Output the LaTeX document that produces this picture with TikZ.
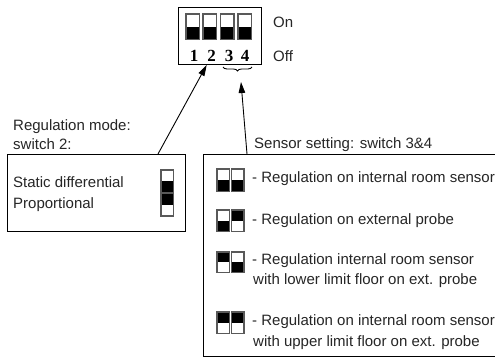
\documentclass[tikz,border=0pt]{standalone}
\usepackage{fontspec}
\setmainfont{Liberation Sans}
\newfontfamily\digitfont{Liberation Serif}
\usetikzlibrary{decorations.pathreplacing,arrows.meta}
\newcommand\swbox[5]{%
  \begin{scope}[shift={(#1,#2)}]
    \fill[swrim] (0,0) rectangle (#3,#4);
    \fill[white] (1.5,1.5) rectangle (#3-1.5,#4-1.5);
    \ifnum#5=0
      \fill[swknob] (1.5,#4/2) rectangle (#3-1.5,#4-1.5);
    \else
      \fill[swknob] (1.5,1.5) rectangle (#3-1.5,#4/2);
    \fi
  \end{scope}}
\begin{document}
\begin{tikzpicture}[x=1pt,y=-1pt,
  lbl/.style={anchor=base west, inner sep=0pt, font=\fontsize{15}{19.5}\selectfont, text=black!85},
  digit/.style={anchor=base, inner sep=0pt, font=\digitfont\bfseries\fontsize{17}{17}\selectfont},
  frame/.style={draw, line width=1.2pt, inner sep=0pt, anchor=north west},
  arr/.style={-{Triangle[length=11pt,width=6.5pt]}, line width=0.9pt},
  swrim/.style={black!65},
  swknob/.style={black},
]
\clip (0,0) rectangle (495,357);
\fill[white] (0,0) rectangle (495,357);

% DIP switch block
\node[frame, minimum width=83.5pt, minimum height=57.5pt] (dip) at (177.5,6.5) {};
\swbox{185}{13.3}{15}{27}{0}
\swbox{202}{13.3}{15}{27}{0}
\swbox{219.5}{13.3}{15}{27}{0}
\swbox{237}{13.3}{15}{27}{0}
\node[digit] (d1) at (194,61) {1};
\node[digit] (d2) at (211.7,61) {2};
\node[digit] (d3) at (229,61) {3};
\node[digit] (d4) at (245,61) {4};
\node[lbl] (on) at (273,27) {On};
\node[lbl] (off) at (273,61) {Off};

% brace under 3 & 4
\draw[decorate, decoration={brace, amplitude=4pt}, line width=0.9pt] (252,67) -- (223,67);
\coordinate (t2) at (206.7,65);
\coordinate (t34) at (241,82);

% left box
\node[lbl] (rm1) at (13,130) {Regulation mode:};
\node[lbl] (rm2) at (13,149) {switch 2:};
\node[frame, minimum width=178pt, minimum height=77pt] (lbox) at (7,154) {};
\coordinate (s1) at (158,154);
\node[lbl] (sd) at (13,187) {Static differential};
\node[lbl] (pr) at (13,208) {Proportional};
\swbox{160}{169}{14}{24}{0}
\swbox{160}{192.5}{14}{24}{1}

% right box
\node[lbl] (ss) at (254,148) {Sensor setting: switch 3\&4};
\node[frame, minimum width=320pt, minimum height=201.5pt] (rbox) at (203,154) {};
\coordinate (s2) at (247,154);
\swbox{216}{168}{14}{24}{0}
\swbox{230.5}{168}{14}{24}{0}
\node[lbl] (r1) at (252,182) {- Regulation on internal room sensor};
\swbox{216}{209}{14}{23}{0}
\swbox{230.5}{209}{14}{23}{1}
\node[lbl] (r2) at (252,224) {- Regulation on external probe};
\swbox{216}{251}{14}{22}{1}
\swbox{230.5}{251}{14}{22}{0}
\node[lbl] (r3a) at (252,264) {- Regulation internal room sensor};
\node[lbl] (r3b) at (253,284) {with lower limit floor on ext. probe};
\swbox{216}{311}{14}{23}{1}
\swbox{230.5}{311}{14}{23}{1}
\node[lbl] (r4a) at (252,325) {- Regulation on internal room sensor};
\node[lbl] (r4b) at (253,346) {with upper limit floor on ext. probe};

% arrows
\draw[arr] (s1) -- (t2);
\draw[arr] (s2) -- (t34);
\end{tikzpicture}
\end{document}
